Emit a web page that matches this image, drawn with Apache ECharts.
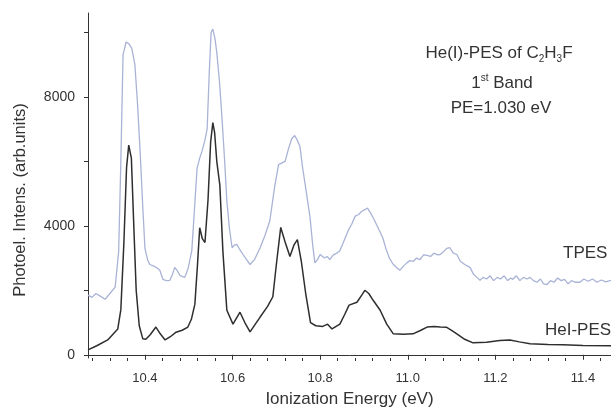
<!DOCTYPE html>
<html>
<head>
<meta charset="utf-8">
<script src="https://cdn.jsdelivr.net/npm/echarts@6/dist/echarts.min.js"></script>
<style>
  html, body { margin: 0; padding: 0; background: #fff; }
  #chart { width: 611px; height: 413px; }
</style>
</head>
<body>
<div id="chart"></div>
<script>
// He(I)-PES (black trace): ionization energy (eV) and intensity
const pesEnergy = [
  10.270, 10.290, 10.315, 10.338, 10.345, 10.352, 10.358, 10.363, 10.366, 10.369,
  10.374, 10.380, 10.387, 10.395, 10.402, 10.412, 10.425, 10.435, 10.446, 10.458,
  10.471, 10.485, 10.498, 10.506, 10.514, 10.520, 10.525, 10.531, 10.537, 10.544,
  10.550, 10.555, 10.559, 10.564, 10.571, 10.578, 10.587, 10.601, 10.617, 10.628,
  10.640, 10.652, 10.663, 10.680, 10.692, 10.700, 10.710, 10.720, 10.731, 10.740,
  10.748, 10.757, 10.767, 10.778, 10.790, 10.806, 10.817, 10.827, 10.845, 10.856,
  10.866, 10.884, 10.895, 10.902, 10.911, 10.921, 10.937, 10.952, 10.967, 10.990,
  11.012, 11.030, 11.044, 11.060, 11.074, 11.089, 11.100, 11.112, 11.130, 11.149,
  11.180, 11.210, 11.233, 11.255, 11.279, 11.320, 11.354, 11.400, 11.464
];
const pesIntensity = [
  150, 280, 460, 800, 1400, 3500, 5800, 6500, 6550, 6100,
  4200, 2000, 900, 500, 480, 620, 860, 650, 460, 560,
  700, 760, 860, 1100, 1570, 2800, 3940, 3600, 3480, 4800,
  6600, 7200, 6900, 6000, 5260, 3200, 1380, 950, 1320, 1000,
  710, 950, 1170, 1500, 1800, 2800, 3950, 3500, 3050, 3400,
  3570, 2900, 1900, 1000, 900, 880, 950, 800, 950, 1250,
  1540, 1630, 1850, 2000, 1900, 1690, 1380, 950, 650, 640,
  650, 760, 860, 880, 860, 850, 760, 650, 480, 370,
  390, 440, 460, 400, 340, 320, 310, 290, 280
];

// TPES (light blue trace)
const tpesEnergy = [
  10.270, 10.279, 10.288, 10.298, 10.309, 10.320, 10.332, 10.340, 10.345, 10.350,
  10.357, 10.363, 10.370, 10.377, 10.383, 10.389, 10.395, 10.400, 10.406, 10.411,
  10.420, 10.427, 10.434, 10.441, 10.449, 10.457, 10.463, 10.468, 10.474, 10.480,
  10.486, 10.491, 10.499, 10.507, 10.513, 10.519, 10.525, 10.530, 10.536, 10.542,
  10.547, 10.551, 10.555, 10.560, 10.564, 10.570, 10.576, 10.582, 10.587, 10.593,
  10.599, 10.604, 10.610, 10.617, 10.624, 10.632, 10.640, 10.650, 10.663, 10.674,
  10.685, 10.696, 10.705, 10.713, 10.720, 10.728, 10.735, 10.742, 10.748, 10.754,
  10.760, 10.770, 10.777, 10.783, 10.788, 10.794, 10.800, 10.810, 10.816, 10.822,
  10.830, 10.838, 10.845, 10.852, 10.858, 10.864, 10.872, 10.880, 10.888, 10.895,
  10.902, 10.908, 10.915, 10.921, 10.930, 10.937, 10.943, 10.950, 10.958, 10.967,
  10.975, 10.982, 10.990, 10.998, 11.005, 11.013, 11.020, 11.028, 11.036, 11.044,
  11.052, 11.060, 11.068, 11.074, 11.082, 11.089, 11.096, 11.104, 11.112, 11.120,
  11.130, 11.142, 11.150, 11.158, 11.165, 11.172, 11.180, 11.188, 11.196, 11.204,
  11.212, 11.220, 11.228, 11.235, 11.240, 11.248, 11.256, 11.264, 11.272, 11.279,
  11.287, 11.295, 11.303, 11.310, 11.318, 11.326, 11.334, 11.342, 11.350, 11.358,
  11.366, 11.374, 11.382, 11.393, 11.402, 11.412, 11.422, 11.432, 11.442, 11.452,
  11.464
];
const tpesIntensity = [
  1850, 1780, 1900, 1820, 1720, 1900, 2100, 3200, 6000, 9300,
  9700, 9650, 9500, 9000, 7800, 6300, 4600, 3300, 2950, 2800,
  2750, 2700, 2620, 2340, 2300, 2310, 2500, 2710, 2600, 2460,
  2420, 2400, 2700, 3230, 4500, 5780, 6100, 6300, 6600, 7000,
  8800, 10000, 10100, 9800, 9380, 8500, 7320, 6000, 4770, 3900,
  3320, 3400, 3420, 3250, 3110, 2950, 2800, 2950, 3320, 3700,
  4150, 5200, 5900, 5950, 6000, 6400, 6700, 6800, 6650, 6450,
  5800, 4900, 4250, 3400, 2850, 2950, 3110, 3000, 3050, 2950,
  3100, 3150, 3230, 3450, 3650, 3850, 4050, 4300, 4350, 4450,
  4500, 4550, 4400, 4250, 4000, 3800, 3630, 3300, 3000, 2800,
  2700, 2620, 2750, 2850, 2920, 2900, 3000, 2950, 3100, 3080,
  3050, 3150, 3100, 3110, 3200, 3300, 3320, 3150, 3110, 2900,
  2800, 2710, 2500, 2400, 2310, 2400, 2350, 2450, 2300, 2400,
  2350, 2450, 2300, 2380, 2340, 2450, 2300, 2400, 2350, 2400,
  2300, 2250, 2350, 2200, 2180, 2300, 2250, 2380, 2300, 2340,
  2200, 2300, 2250, 2250, 2350, 2280, 2350, 2250, 2320, 2260,
  2310
];

// axis ticks and labels
const xLabelValues = [10.4, 10.6, 10.8, 11.0, 11.2, 11.4];
const xMinorValues = [
  10.28, 10.32, 10.36, 10.44, 10.48, 10.52, 10.56, 10.64, 10.68, 10.72, 10.76,
  10.84, 10.88, 10.92, 10.96, 11.04, 11.08, 11.12, 11.16, 11.24, 11.28, 11.32, 11.36, 11.44
];
const yLabelValues = [0, 4000, 8000];
const yTickValues = [0, 2000, 4000, 6000, 8000, 10000];

const chart = echarts.init(document.getElementById("chart"));
const font = "'Liberation Sans', Arial, sans-serif";
const ink = "#333";

const zip = (xs, ys) => xs.map((x, i) => [x, ys[i]]);

const option = {
  animation: false,
  backgroundColor: "#fff",
  grid: { left: 88, right: 0, top: 13, bottom: 52 },
  xAxis: [
    {
      type: "value",
      min: 10.27,
      max: 11.464,
      name: "Ionization Energy (eV)",
      nameLocation: "middle",
      nameGap: 33,
      nameTextStyle: { fontFamily: font, fontSize: 17, color: ink },
      axisLine: { show: true, lineStyle: { color: ink, width: 1 } },
      axisTick: { show: true, length: 5, customValues: xLabelValues, lineStyle: { color: ink } },
      axisLabel: {
        customValues: xLabelValues,
        formatter: (v) => v.toFixed(1),
        margin: 14,
        fontFamily: font,
        fontSize: 13,
        color: ink
      },
      splitLine: { show: false }
    },
    {
      // minor ticks only
      type: "value",
      position: "bottom",
      min: 10.27,
      max: 11.464,
      axisLine: { show: false },
      axisTick: { show: true, length: 3, customValues: xMinorValues, lineStyle: { color: ink } },
      axisLabel: { show: false },
      splitLine: { show: false }
    }
  ],
  yAxis: {
    type: "value",
    min: -100,
    max: 10600,
    axisLine: { show: true, lineStyle: { color: ink, width: 1 } },
    axisTick: { show: true, length: 4, customValues: yTickValues, lineStyle: { color: ink } },
    axisLabel: {
      customValues: yLabelValues,
      formatter: (v) => String(v),
      margin: 13,
      fontFamily: font,
      fontSize: 14,
      color: ink
    },
    splitLine: { show: false }
  },
  series: [
    {
      name: "TPES",
      type: "line",
      data: zip(tpesEnergy, tpesIntensity),
      showSymbol: false,
      lineStyle: { color: "#a9b3d6", width: 1.3 },
      z: 2
    },
    {
      name: "HeI-PES",
      type: "line",
      data: zip(pesEnergy, pesIntensity),
      showSymbol: false,
      lineStyle: { color: "#2e2e2e", width: 1.5 },
      z: 3
    }
  ],
  graphic: [
    {
      type: "text",
      x: 20, y: 200,
      rotation: Math.PI / 2,
      style: {
        text: "Photoel. Intens. (arb.units)",
        font: "16.5px " + font,
        fill: ink,
        align: "center",
        verticalAlign: "middle"
      }
    },
    {
      type: "text",
      x: 499, y: 53,
      style: {
        text: "He(I)-PES of C{s|2}H{s|3}F",
        font: "17px " + font,
        fill: ink,
        align: "center",
        verticalAlign: "middle",
        rich: { s: { fontSize: 10, fill: ink, fontFamily: font, padding: [12, 0, 0, 0] } }
      }
    },
    {
      type: "text",
      x: 502, y: 83,
      style: {
        text: "1{p|st} Band",
        font: "17px " + font,
        fill: ink,
        align: "center",
        verticalAlign: "middle",
        rich: { p: { fontSize: 10, fill: ink, fontFamily: font, padding: [0, 0, 9, 0] } }
      }
    },
    {
      type: "text",
      x: 501, y: 108,
      style: {
        text: "PE=1.030 eV",
        font: "17px " + font,
        fill: ink,
        align: "center",
        verticalAlign: "middle"
      }
    },
    {
      type: "text",
      x: 563, y: 253,
      style: { text: "TPES", font: "17px " + font, fill: ink, verticalAlign: "middle" }
    },
    {
      type: "text",
      x: 545, y: 330,
      style: { text: "HeI-PES", font: "17px " + font, fill: ink, verticalAlign: "middle" }
    }
  ]
};

chart.setOption(option);
</script>
</body>
</html>
